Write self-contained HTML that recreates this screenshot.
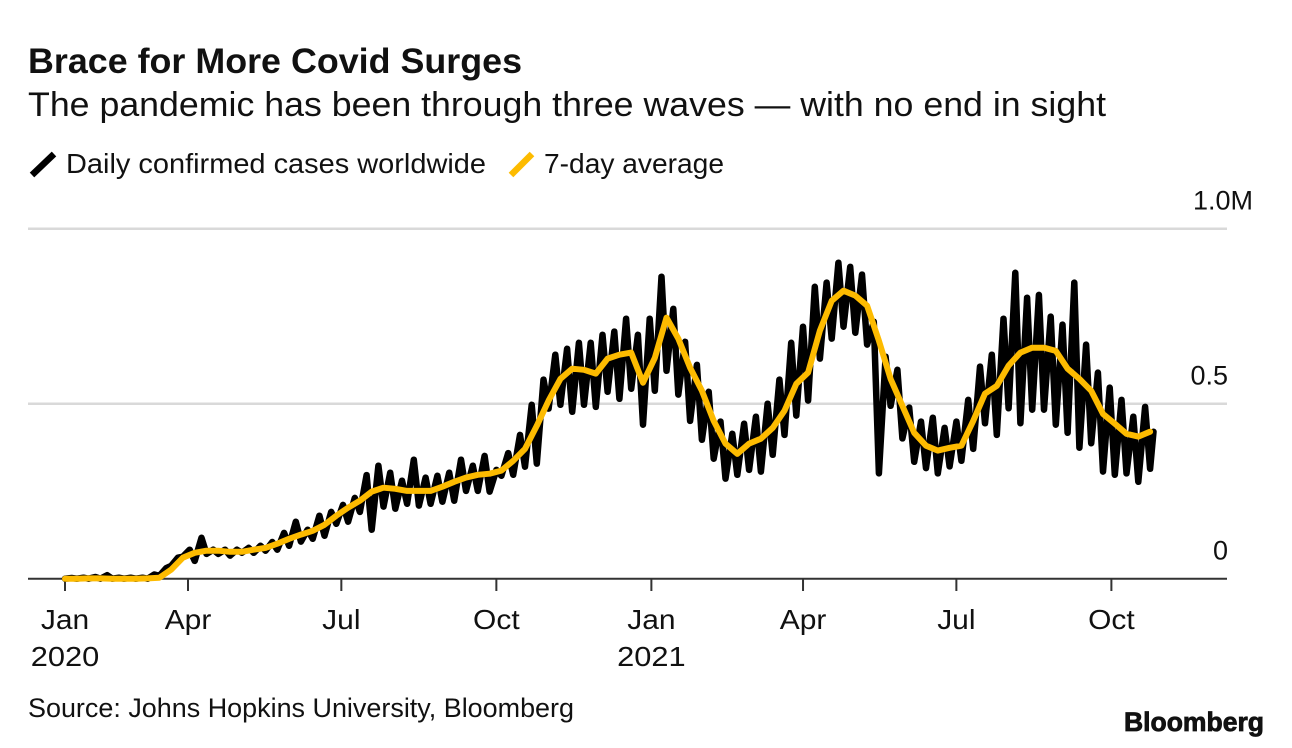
<!DOCTYPE html>
<html lang="en">
<head>
<meta charset="utf-8">
<title>Brace for More Covid Surges</title>
<style>
html,body{margin:0;padding:0;background:#fff;width:1292px;height:748px;overflow:hidden}
svg{display:block}
text{font-family:"Liberation Sans",Arial,sans-serif;fill:#111}
</style>
</head>
<body>
<svg id="chart" width="1292" height="748" viewBox="0 0 1292 748" xmlns="http://www.w3.org/2000/svg">
  <rect width="1292" height="748" fill="#fff"/>
  <text x="28" y="73" font-size="35" font-weight="700" textLength="494" lengthAdjust="spacingAndGlyphs">Brace for More Covid Surges</text>
  <text x="28" y="116" font-size="34" textLength="1078" lengthAdjust="spacingAndGlyphs">The pandemic has been through three waves — with no end in sight</text>
  <line x1="32" y1="175" x2="54" y2="154" stroke="#000" stroke-width="6.5"/>
  <text x="66" y="173" font-size="28" textLength="420" lengthAdjust="spacingAndGlyphs">Daily confirmed cases worldwide</text>
  <line x1="511" y1="175" x2="532" y2="154" stroke="#fdbb00" stroke-width="6.5"/>
  <text x="544" y="173" font-size="28" textLength="180" lengthAdjust="spacingAndGlyphs">7-day average</text>
  <g id="grid"></g>
  <g id="yLabels"></g>
  <g id="xAxis"></g>
  <path id="dailyLine" fill="none" stroke="#000" stroke-width="6.5" stroke-linejoin="round" stroke-linecap="round"/>
  <path id="avgLine" fill="none" stroke="#fdbb00" stroke-width="6" stroke-linejoin="round" stroke-linecap="round"/>
  <text x="28" y="717" font-size="26.5" textLength="546" lengthAdjust="spacingAndGlyphs">Source: Johns Hopkins University, Bloomberg</text>
  <text x="1124" y="731" font-size="27" font-weight="700" textLength="140" lengthAdjust="spacingAndGlyphs" stroke="#111" stroke-width="0.8">Bloomberg</text>
</svg>
<script>
// Weekly high and low of daily confirmed cases (thousands), one entry per week
var weeklyHighs = [2,3,5,10,3,3,3,12,30,60,83,117,83,83,83,88,94,105,131,163,140,180,191,211,231,296,323,303,280,340,289,294,303,340,323,351,311,359,411,497,569,640,657,674,674,697,706,743,697,743,863,771,677,611,534,449,414,443,463,500,569,674,720,834,846,903,891,869,734,634,597,489,449,460,431,449,511,606,640,743,874,803,811,749,726,846,669,589,546,511,463,491];
var weeklyLows = [0,0,0,0,0,0,0,8,37,63,51,71,71,66,74,74,80,83,94,106,114,123,157,163,191,140,206,200,214,209,214,220,223,251,251,249,294,297,320,329,486,497,477,497,491,534,514,543,440,537,594,526,451,397,343,286,297,311,306,354,411,466,509,629,686,720,703,669,301,494,401,334,316,301,321,337,371,444,411,487,444,483,483,440,417,374,387,306,297,301,277,314];
var lastDaily = 420;
// 7-day average of cases (thousands), one entry per week from the start of data
var sevenDayAvg = [0,0,1,1,0,0,0,1,3,26,60,74,80,80,77,77,83,88,100,114,126,137,154,180,203,223,249,260,257,251,251,251,263,277,289,297,300,309,337,371,437,509,571,600,597,586,629,640,646,560,631,746,686,603,537,451,386,357,386,400,431,480,557,589,709,794,823,809,780,680,571,494,417,380,366,374,380,451,529,551,609,646,660,660,651,600,571,537,471,443,414,406,420];
var xTickDays = [0,73,164,256,348,438,529,621];
var xTickLabels = ["Jan","Apr","Jul","Oct","Jan","Apr","Jul","Oct"];
var yearLabels = ["2020","2021"];
var yearTickDays = [0,348];
var yTickValues = [0,500,1000];
var yTickLabels = ["0","0.5","1.0M"];

var NS = "http://www.w3.org/2000/svg";
function xScale(day){ return 65 + day * 1.685; }
function yScale(v){ return 578.7 - v * 0.35; }
function make(tag, parent, attrs, txt){
  var el = document.createElementNS(NS, tag);
  for (var k in attrs) el.setAttribute(k, attrs[k]);
  if (txt !== undefined) el.textContent = txt;
  parent.appendChild(el);
  return el;
}
function stretch(el, factor){
  el.setAttribute("textLength", (el.getComputedTextLength() * factor).toFixed(1));
  el.setAttribute("lengthAdjust", "spacingAndGlyphs");
}

// Grid lines and y labels
var grid = document.getElementById("grid");
var yGroup = document.getElementById("yLabels");
yTickValues.forEach(function(v, i){
  var y = yScale(v);
  if (v > 0) {
    var gl = make("line", grid, {x1:28, x2:1227, y1:y, y2:y, stroke:"#d9d9d9", "stroke-width":2.5});
    
    
  }
  var lb = make("text", yGroup, {x: 1228 + (v === 1000 ? 25 : 0), y: y - 19, "font-size":27, "text-anchor":"end"}, yTickLabels[i]);
  
  
});

// X axis
var xg = document.getElementById("xAxis");
var base = make("line", xg, {x1:28, x2:1227, y1:yScale(0), y2:yScale(0), stroke:"#333", "stroke-width":2});


xTickDays.forEach(function(d, i){
  var x = xScale(d);
  var t = make("line", xg, {x1:x, x2:x, y1:yScale(0), y2:591, stroke:"#333", "stroke-width":2});
  
  
  var l = make("text", xg, {x:x, y:629, "font-size":28, "text-anchor":"middle"}, xTickLabels[i]);
  
  
  stretch(l, 1.07);
});
yearLabels.forEach(function(lbl, i){
  var yl = make("text", xg, {x:xScale(yearTickDays[i]), y:666, "font-size":28, "text-anchor":"middle"}, lbl);
  
  
  stretch(yl, 1.1);
});

// Daily line: alternate each week's high and low
var parts = [];
weeklyHighs.forEach(function(h, k){
  parts.push(xScale(4 + 7 * k).toFixed(1) + "," + yScale(h).toFixed(1));
  parts.push(xScale(7 + 7 * k).toFixed(1) + "," + yScale(weeklyLows[k]).toFixed(1));
});
parts.push(xScale(7 + 7 * (weeklyHighs.length - 1) + 2).toFixed(1) + "," + yScale(lastDaily).toFixed(1));
document.getElementById("dailyLine").setAttribute("d", "M" + xScale(0).toFixed(1) + "," + yScale(0) + "L" + parts.join("L"));

// 7-day average line
document.getElementById("avgLine").setAttribute("d", "M" + sevenDayAvg.map(function(v, j){
  return xScale(7 * j).toFixed(1) + "," + yScale(v).toFixed(1);
}).join("L"));
</script>
</body>
</html>
